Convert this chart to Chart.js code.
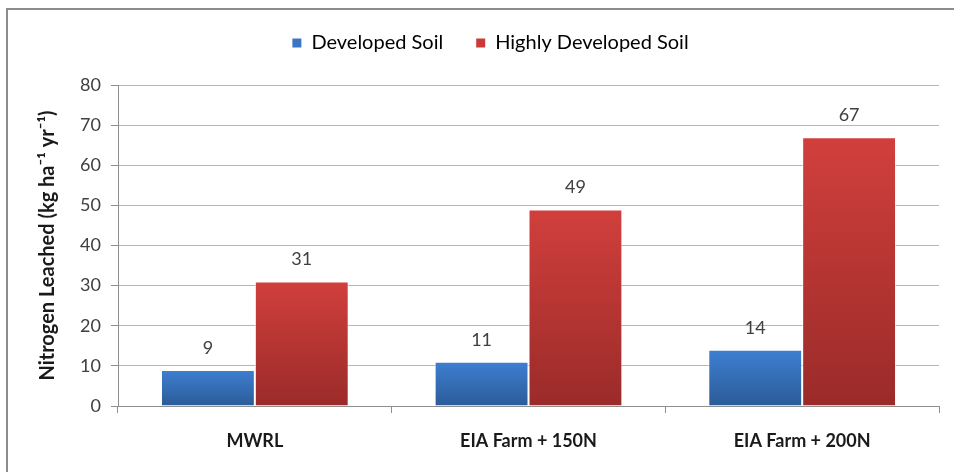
<!DOCTYPE html>
<html>
<head>
<meta charset="utf-8">
<script src="https://cdn.jsdelivr.net/npm/chart.js@4.4.0/dist/chart.umd.min.js"></script>
<style>
  html, body { margin: 0; padding: 0; background: #fff; overflow: hidden; }
  #wrap { position: relative; width: 954px; height: 472px; }
  #frame { position: absolute; left: 6px; top: 8px; width: 980px; height: 500px; border: 2px solid #8c8c8c; box-sizing: border-box; }
  #c { position: absolute; left: 0; top: 0; }
</style>
</head>
<body>
<div id="wrap">
  <div id="frame"></div>
  <canvas id="c" width="954" height="472"></canvas>
</div>
<script>
// categories and values
var categories = ["MWRL", "EIA Farm + 150N", "EIA Farm + 200N"];
var developedSoil = [9, 11, 14];
var highlyDevelopedSoil = [31, 49, 67];
var yTicks = [0, 10, 20, 30, 40, 50, 60, 70, 80];

var FONT = "Lato, 'Liberation Sans', sans-serif";

// gradient for every bar, from its top to the zero line
function barFill(top, bottom) {
  return function (ctx) {
    var chart = ctx.chart;
    if (ctx.type !== 'data' || !chart.chartArea) return top;
    var y = chart.scales.y;
    var g = chart.ctx.createLinearGradient(0, y.getPixelForValue(ctx.raw), 0, y.getPixelForValue(0));
    g.addColorStop(0, top);
    g.addColorStop(1, bottom);
    return g;
  };
}

// numbers above the bars
var valueLabels = {
  id: 'valueLabels',
  afterDatasetsDraw: function (chart) {
    var c = chart.ctx;
    c.save();
    c.font = "18px " + FONT;
    c.fillStyle = '#404040';
    c.textAlign = 'center';
    c.textBaseline = 'middle';
    chart.data.datasets.forEach(function (ds, i) {
      chart.getDatasetMeta(i).data.forEach(function (bar, j) {
        c.fillText(ds.data[j], bar.x, bar.y - 22);
      });
    });
    c.restore();
  }
};

// legend box: fixed height so the plot starts lower, and nudged right
var legendSpace = {
  id: 'legendSpace',
  beforeInit: function (chart) {
    var fit = chart.legend.fit;
    chart.legend.fit = function () {
      fit.bind(chart.legend)();
      this.height = 85;
    };
  },
  afterLayout: function (chart) {
    chart.legend.left += 21;
    chart.legend.right += 21;
  }
};

new Chart(document.getElementById('c'), {
  type: 'bar',
  data: {
    labels: categories,
    datasets: [
      {
        label: 'Developed Soil',
        data: developedSoil,
        backgroundColor: barFill('#3d7fd2', '#2c5b97'),
        borderColor: 'rgba(255,255,255,0.7)',
        borderWidth: 1
      },
      {
        label: 'Highly Developed Soil',
        data: highlyDevelopedSoil,
        backgroundColor: barFill('#d13f3c', '#9a2b29'),
        borderColor: 'rgba(255,255,255,0.7)',
        borderWidth: 1
      }
    ]
  },
  options: {
    responsive: false,
    animation: false,
    layout: { padding: { top: 0, right: 15, bottom: 0, left: 0 } },
    datasets: { bar: { categoryPercentage: 0.686, barPercentage: 1.0 } },
    plugins: {
      tooltip: { enabled: false },
      legend: {
        position: 'top',
        labels: {
          boxWidth: 9,
          boxHeight: 9,
          padding: 33,
          color: '#404040',
          font: { family: FONT, size: 20 },
          generateLabels: function (chart) {
            var cols = ['#3a76c4', '#c93b39'];
            return chart.data.datasets.map(function (ds, i) {
              return { text: ds.label, fillStyle: cols[i], strokeStyle: cols[i], lineWidth: 0, datasetIndex: i, hidden: false };
            });
          }
        }
      }
    },
    scales: {
      x: {
        grid: { offset: true, drawOnChartArea: false, tickLength: 7, color: '#8e8e8e' },
        border: { color: '#8e8e8e', width: 1 },
        ticks: { padding: 17, color: '#1a1a1a', font: { family: FONT, size: 18, weight: 'bold' } },
        afterFit: function (s) { s.height = 66; }
      },
      y: {
        min: 0,
        max: 80,
        afterBuildTicks: function (s) { s.ticks = yTicks.map(function (v) { return { value: v }; }); },
        grid: { color: '#b5b5b5', tickLength: 7, tickColor: '#8e8e8e' },
        border: { color: '#8e8e8e', width: 1 },
        ticks: { padding: 10, color: '#404040', font: { family: FONT, size: 18 } },
        title: {
          display: true,
          text: 'Nitrogen Leached (kg ha\u207B\u00B9 yr\u207B\u00B9)',
          color: '#1a1a1a',
          font: { family: FONT, size: 20, weight: 'bold' },
          padding: { top: 36, bottom: 0 }
        },
        afterFit: function (s) { s.width = 118; }
      }
    }
  },
  plugins: [valueLabels, legendSpace]
});
</script>
</body>
</html>
